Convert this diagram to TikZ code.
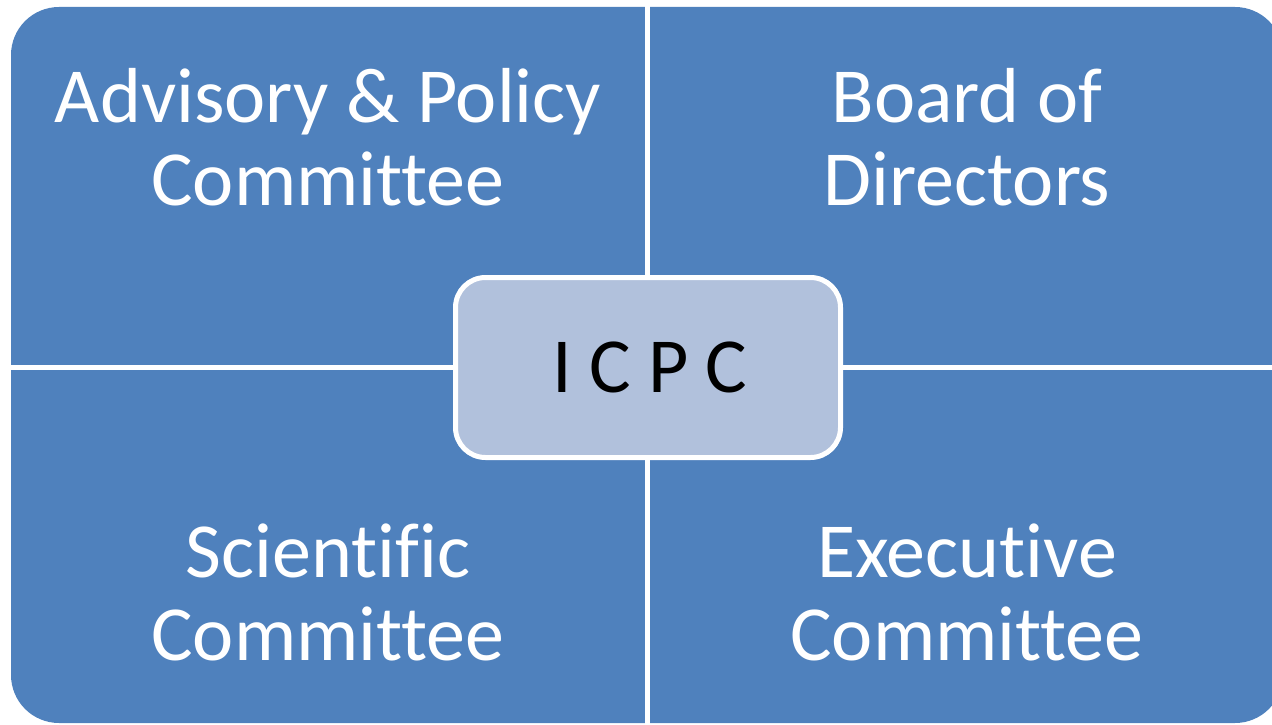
\documentclass[tikz,border=0pt]{standalone}
\usepackage{fontspec}
\setmainfont[Ligatures=NoCommon]{Carlito}
\definecolor{quadblue}{HTML}{4F81BD}
\definecolor{coreblue}{HTML}{B1C1DC}
\begin{document}
\begin{tikzpicture}[x=1pt,y=-1pt,
  quadtext/.style={text=white,align=center,font=\fontsize{78}{83}\selectfont,inner sep=0pt},
  coretext/.style={text=black,font=\fontsize{78}{83}\selectfont,inner sep=0pt},
  gap/.style={white,line width=5pt}]
\useasboundingbox (0,0) rectangle (1272,725);
\clip (0,0) rectangle (1272,725);
% outer rounded shape split into four quadrants
\fill[quadblue,rounded corners=48pt] (11,7) rectangle (1283,723);
\draw[gap] (647.5,0) -- (647.5,725);
\draw[gap] (0,367) -- (1272,367);
% centre box
\node[draw=white,line width=5pt,fill=coreblue,rounded corners=30pt,
  minimum width=385pt,minimum height=180pt,inner sep=0pt] (core) at (648,367.5) {};
\node[coretext] (icpc) at (650,367) {I\hspace{0.22em}C\hspace{0.22em}P\hspace{0.22em}C};
% quadrant labels
\node[quadtext,anchor=base] (apc) at (328,205) {Advisory \& Policy\\Committee};
\node[quadtext,anchor=base] (bod) at (967,205) {Board of\\Directors};
\node[quadtext,anchor=base] (sci) at (328,660) {Scientific\\Committee};
\node[quadtext,anchor=base] (exe) at (967,660) {Executive\\Committee};
\end{tikzpicture}
\end{document}
